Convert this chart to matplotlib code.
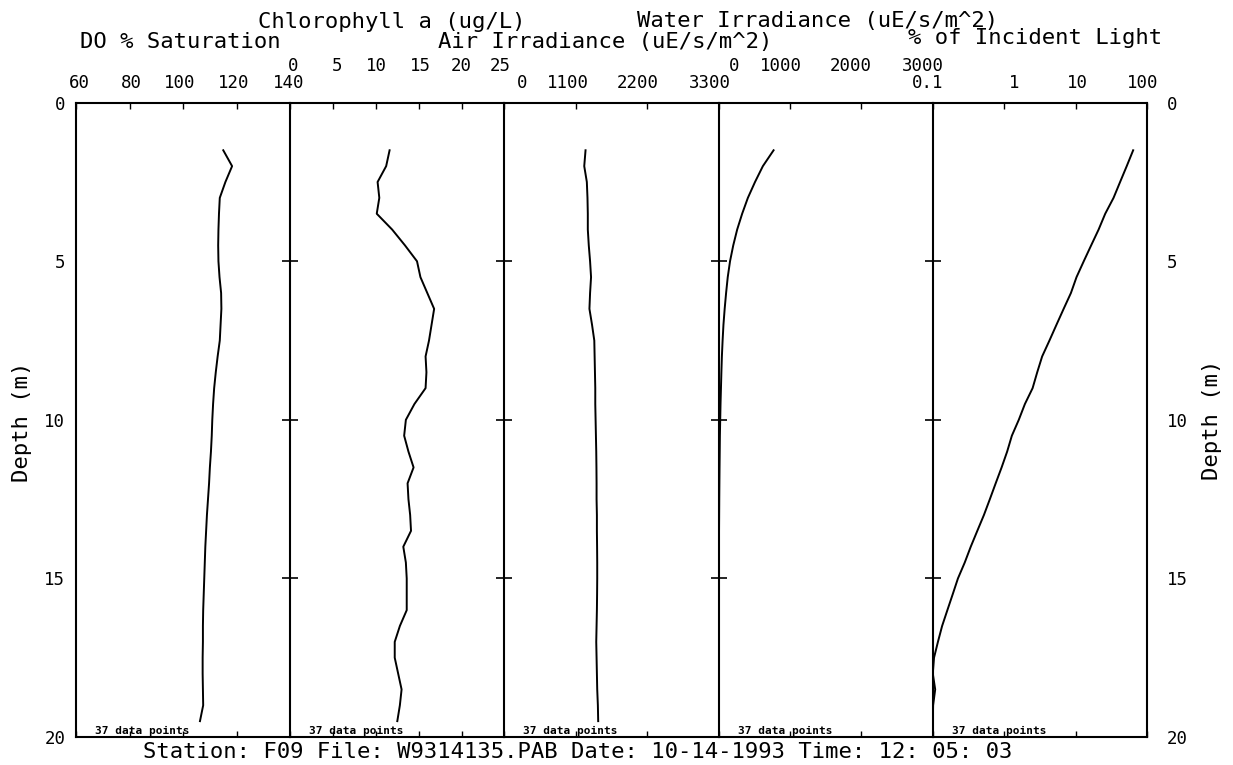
import matplotlib
matplotlib.use('Agg')
import matplotlib.pyplot as plt
import matplotlib.transforms as mtransforms
from matplotlib.ticker import NullLocator

plt.rcParams['font.family'] = ['DejaVu Sans Mono', 'DejaVu Sans']

# depth of each sample (m), 37 samples
depth = [1.5, 2.0, 2.5, 3.0, 3.5, 4.0, 4.5, 5.0, 5.5, 6.0, 6.5, 7.0, 7.5,
         8.0, 8.5, 9.0, 9.5, 10.0, 10.5, 11.0, 11.5, 12.0, 12.5, 13.0,
         13.5, 14.0, 14.5, 15.0, 15.5, 16.0, 16.5, 17.0, 17.5, 18.0, 18.5,
         19.0, 19.5]

do_sat = [115.0, 118.3, 115.8, 113.7, 113.4, 113.2, 113.1, 113.2, 113.6,
          114.2, 114.3, 114.0, 113.7, 112.9, 112.2, 111.6, 111.2, 110.9,
          110.7, 110.4, 110.0, 109.7, 109.3, 108.9, 108.6, 108.3, 108.1,
          107.9, 107.7, 107.5, 107.4, 107.4, 107.3, 107.3, 107.4, 107.5,
          106.3]

chl = [11.6, 11.2, 10.2, 10.4, 10.1, 11.9, 13.4, 14.8, 15.2, 16.0, 16.8,
       16.5, 16.2, 15.8, 15.9, 15.8, 14.5, 13.5, 13.3, 13.8, 14.4, 13.7,
       13.8, 14.0, 14.1, 13.2, 13.5, 13.6, 13.6, 13.6, 12.8, 12.2, 12.2,
       12.6, 13.0, 12.8, 12.5]

air_irr = [1250, 1230, 1270, 1280, 1285, 1285, 1300, 1320, 1335, 1320, 1310,
           1350, 1385, 1390, 1395, 1400, 1400, 1405, 1410, 1415, 1418, 1420,
           1420, 1425, 1425, 1428, 1430, 1430, 1428, 1425, 1420, 1415, 1420,
           1425, 1430, 1440, 1445]

water_irr = [770, 620, 510, 410, 330, 260, 205, 160, 128, 105, 85, 68, 56,
             46, 39, 33, 27, 22.5, 18, 15.6, 13, 10.8, 8.9, 7.4, 6.0, 4.9,
             4.0, 3.2, 2.7, 2.3, 1.9, 1.7, 1.5, 1.4, 1.5, 1.45, 1.45]

pct_light = [64, 52, 42, 34, 26, 21, 16.5, 13, 10.3, 8.6, 6.8, 5.4, 4.3,
             3.4, 2.9, 2.5, 1.95, 1.6, 1.28, 1.1, 0.92, 0.76, 0.63, 0.52,
             0.42, 0.34, 0.28, 0.225, 0.19, 0.16, 0.135, 0.118, 0.104, 0.1,
             0.108, 0.101, 0.1]

do_ticks = [60, 80, 100, 120, 140]
chl_ticks = [0, 5, 10, 15, 20, 25]
air_ticks = [0, 1100, 2200, 3300]
water_ticks = [0, 1000, 2000, 3000]
pct_ticks = [0.1, 1, 10, 100]
pct_labels = ['0.1', '1', '10', '100']
depth_ticks = [0, 5, 10, 15, 20]

station = 'Station: F09 File: W9314135.PAB Date: 10-14-1993 Time: 12: 05: 03'

W, H = 1233, 765
fig = plt.figure(figsize=(W / 100, H / 100), dpi=100)

x0, x1 = 76, 1147
ytop, ybot = 102.7, 737
pw = (x1 - x0) / 5

panels = [
    (do_sat, (60, 140), do_ticks, [str(t) for t in do_ticks], 'low', [3, 2, -3, -3, -2], 'linear'),
    (chl, (0, 25), chl_ticks, [str(t) for t in chl_ticks], 'high', [3, 4, 1, 2, 0, -4], 'linear'),
    (air_irr, (0, 3300), air_ticks, [str(t) for t in air_ticks], 'low', [18, -8, -9, -9], 'linear'),
    (water_irr, (0, 3000), water_ticks, [str(t) for t in water_ticks], 'high', [16, -9, -11, -10], 'linear'),
    (pct_light, (0.1, 100), pct_ticks, pct_labels, 'low', [-5, 10, 2, -4], 'log'),
]

for i, (vals, lims, ticks, labels, row, offs, scale) in enumerate(panels):
    ax = fig.add_axes([(x0 + i * pw) / W, 1 - ybot / H, pw / W, (ybot - ytop) / H])
    ax.plot(vals, depth, color='black', lw=1.4)
    ax.set_xscale(scale)
    ax.set_xlim(*lims)
    ax.set_ylim(20, 0)
    ax.set_xticks(ticks)
    ax.xaxis.set_minor_locator(NullLocator())
    ax.tick_params(axis='x', top=True, bottom=True, labeltop=False,
                   labelbottom=False, direction='in', length=4.5, width=1.0)
    for sp in ax.spines.values():
        sp.set_linewidth(1.5)
    if i < 4:
        ax.spines['right'].set_visible(False)

    # top tick labels, in two staggered rows
    base = 14.7 if row == 'low' else 31.7
    blend = mtransforms.blended_transform_factory(ax.transData, ax.transAxes)
    for t, lbl, dx in zip(ticks, labels, offs):
        tr = blend + mtransforms.ScaledTranslation(dx / 100, base / 100, fig.dpi_scale_trans)
        ax.text(t, 1, lbl, transform=tr, ha='center', va='baseline',
                fontsize=12.5, clip_on=False)

    if i == 0:
        ax.set_yticks(depth_ticks)
        ax.tick_params(axis='y', length=0, pad=7.7, labelsize=12.5)
    else:
        ax.set_yticks([5, 10, 15])
        ax.set_yticklabels([])
        ax.tick_params(axis='y', direction='inout', length=11, width=1.2)

    ax.text(19 / pw, 0.004, f'{len(depth)} data points', transform=ax.transAxes,
            fontsize=8, fontweight='bold', va='baseline', ha='left')

    if i == 4:
        axr = ax.twinx()
        axr.set_ylim(20, 0)
        axr.set_yticks(depth_ticks)
        axr.tick_params(axis='y', length=0, pad=14.4, labelsize=12.5)
        for sp in axr.spines.values():
            sp.set_visible(False)


def ftext(x, y, s, **kw):
    fig.text(x / W, 1 - y / H, s, ha='center', va='center', fontsize=16, **kw)


ftext(392, 21.5, 'Chlorophyll a (ug/L)')
ftext(818, 21.5, 'Water Irradiance (uE/s/m^2)')
ftext(180, 42, 'DO % Saturation')
ftext(605, 42, 'Air Irradiance (uE/s/m^2)')
ftext(1035, 38, '% of Incident Light')
ftext(22, 422, 'Depth (m)', rotation=90)
ftext(1212, 420, 'Depth (m)', rotation=90)
ftext(578, 752, station)

fig.savefig('out.png', dpi=100, facecolor='white')
